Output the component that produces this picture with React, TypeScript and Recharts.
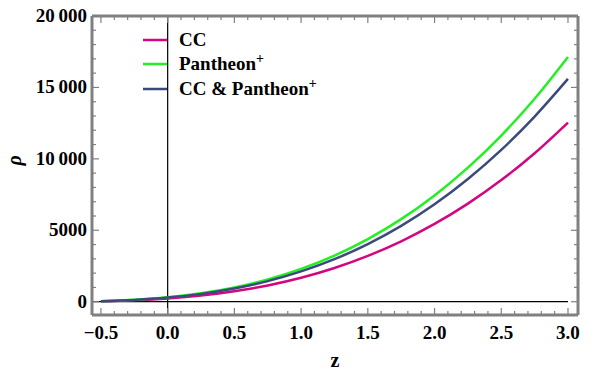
import { LineChart, Line, XAxis, YAxis, ReferenceLine, Customized } from 'recharts';

// redshift grid and energy density
const zValues = [-0.5, -0.25, 0, 0.25, 0.5, 0.75, 1.0, 1.25, 1.5, 1.75, 2.0, 2.25, 2.5, 2.75, 3.0];
const rhoCC = [30, 98, 225, 430, 729, 1140, 1679, 2363, 3209, 4230, 5443, 6865, 8512, 10395, 12540];
const rhoPantheon = [41, 134, 307, 587, 997, 1558, 2295, 3229, 4385, 5781, 7438, 9382, 11633, 14207, 17130];
const rhoJoint = [39, 126, 288, 548, 926, 1443, 2120, 2976, 4031, 5305, 6816, 8585, 10624, 12961, 15600];

const xTicks = [-0.5, -0.4, -0.3, -0.2, -0.1, 0, 0.1, 0.2, 0.3, 0.4, 0.5, 0.6, 0.7, 0.8, 0.9, 1.0, 1.1, 1.2, 1.3, 1.4, 1.5, 1.6, 1.7, 1.8, 1.9, 2.0, 2.1, 2.2, 2.3, 2.4, 2.5, 2.6, 2.7, 2.8, 2.9, 3.0];
const xMajor = [-0.5, 0, 0.5, 1.0, 1.5, 2.0, 2.5, 3.0];
const yTicks = [0, 1000, 2000, 3000, 4000, 5000, 6000, 7000, 8000, 9000, 10000, 11000, 12000, 13000, 14000, 15000, 16000, 17000, 18000, 19000, 20000];
const yMajor = [0, 5000, 10000, 15000, 20000];
const yMajorLabels = ['0', '5000', '10\u2009000', '15\u2009000', '20\u2009000'];

const seriesNames = ['CC', 'Pantheon', 'CC & Pantheon'];
const seriesColors = ['#d3067f', '#22f022', '#3a4a7a'];

const data = zValues.map((z, i) => ({
  z,
  cc: rhoCC[i],
  pantheon: rhoPantheon[i],
  joint: rhoJoint[i],
}));

const FONT = '"Liberation Serif", "Times New Roman", serif';
const FRAME = '#808080';

const isMajorX = (v: number) => xMajor.some((m) => Math.abs(m - v) < 1e-6);
const fmtX = (v: number) => (v < 0 ? '\u2212' : '') + Math.abs(v).toFixed(1);

function BottomTick({ x, y, payload }: any) {
  const major = isMajorX(payload.value);
  return (
    <g>
      <line x1={x} x2={x} y1={y} y2={y - (major ? 7 : 4)} stroke={FRAME} strokeWidth={1.2} />
      {major && (
        <text x={x} y={y + 24} textAnchor="middle" fontFamily={FONT} fontWeight="bold" fontSize={19} fill="#000">
          {fmtX(payload.value)}
        </text>
      )}
    </g>
  );
}

function TopTick({ x, y, payload }: any) {
  const major = isMajorX(payload.value);
  return <line x1={x} x2={x} y1={y} y2={y + (major ? 7 : 4)} stroke={FRAME} strokeWidth={1.2} />;
}

function LeftTick({ x, y, payload }: any) {
  const idx = yMajor.indexOf(payload.value);
  const major = idx >= 0;
  return (
    <g>
      <line x1={x} x2={x + (major ? 7 : 4)} y1={y} y2={y} stroke={FRAME} strokeWidth={1.2} />
      {major && (
        <text x={x - 5} y={y + 6} textAnchor="end" fontFamily={FONT} fontWeight="bold" fontSize={19} fill="#000">
          {yMajorLabels[idx]}
        </text>
      )}
    </g>
  );
}

function RightTick({ x, y, payload }: any) {
  const major = yMajor.indexOf(payload.value) >= 0;
  return <line x1={x} x2={x - (major ? 7 : 4)} y1={y} y2={y} stroke={FRAME} strokeWidth={1.2} />;
}

function LegendBox() {
  const rows = [32, 56, 81];
  return (
    <g>
      {seriesNames.map((name, i) => (
        <g key={name}>
          <line x1={135} x2={159} y1={rows[i]} y2={rows[i]} stroke={seriesColors[i]} strokeWidth={2.5} />
          <text x={171} y={rows[i] + 6} fontFamily={FONT} fontWeight="bold" fontSize={19} fill="#000">
            {name}
            {i > 0 && <tspan dy={-7} fontSize={14}>+</tspan>}
          </text>
        </g>
      ))}
    </g>
  );
}

export default function App() {
  return (
    <LineChart width={585} height={362} data={data} margin={{ top: 0, right: 0, bottom: 0, left: 0 }}>
      <XAxis
        dataKey="z"
        type="number"
        domain={[-0.567, 3.075]}
        allowDataOverflow
        ticks={xTicks}
        interval={0}
        tickSize={0}
        tickMargin={0}
        tickLine={false}
        tick={<BottomTick />}
        axisLine={{ stroke: FRAME, strokeWidth: 3 }}
        height={55}
        label={{ value: 'z', position: 'insideBottom', offset: 3, fontFamily: FONT, fontWeight: 'bold', fontSize: 20, fill: '#000' }}
      />
      <XAxis
        xAxisId="top"
        dataKey="z"
        type="number"
        orientation="top"
        domain={[-0.567, 3.075]}
        allowDataOverflow
        ticks={xTicks}
        interval={0}
        tickSize={0}
        tickMargin={0}
        tickLine={false}
        tick={<TopTick />}
        axisLine={{ stroke: FRAME, strokeWidth: 3 }}
        height={8}
      />
      <YAxis
        type="number"
        domain={[-930, 20000]}
        allowDataOverflow
        ticks={yTicks}
        interval={0}
        tickSize={0}
        tickMargin={0}
        tickLine={false}
        tick={<LeftTick />}
        axisLine={{ stroke: FRAME, strokeWidth: 3 }}
        width={84}
        label={{ value: 'ρ', angle: -90, position: 'insideLeft', offset: 6, fontFamily: FONT, fontWeight: 'bold', fontStyle: 'italic', fontSize: 20, fill: '#000' }}
      />
      <YAxis
        yAxisId="right"
        orientation="right"
        type="number"
        domain={[-930, 20000]}
        allowDataOverflow
        ticks={yTicks}
        interval={0}
        tickSize={0}
        tickMargin={0}
        tickLine={false}
        tick={<RightTick />}
        axisLine={{ stroke: FRAME, strokeWidth: 3 }}
        width={15}
      />
      <ReferenceLine x={0} stroke="#000" strokeWidth={1.2} />
      <ReferenceLine segment={[{ x: -0.567, y: 0 }, { x: 3.0, y: 0 }]} stroke="#000" strokeWidth={1.2} />
      <Line type="monotone" dataKey="cc" stroke={seriesColors[0]} strokeWidth={2.5} dot={false} isAnimationActive={false} />
      <Line type="monotone" dataKey="pantheon" stroke={seriesColors[1]} strokeWidth={2.5} dot={false} isAnimationActive={false} />
      <Line type="monotone" dataKey="joint" stroke={seriesColors[2]} strokeWidth={2.5} dot={false} isAnimationActive={false} />
      <Customized component={LegendBox} />
    </LineChart>
  );
}
